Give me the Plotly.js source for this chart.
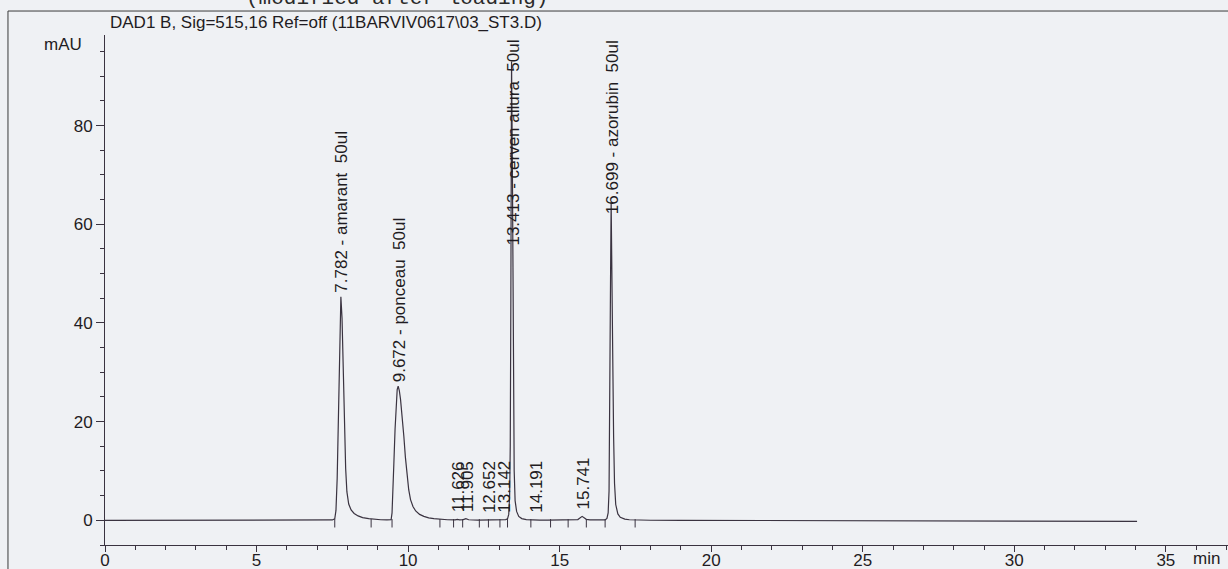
<!DOCTYPE html>
<html>
<head>
<meta charset="utf-8">
<script src="https://cdn.plot.ly/plotly-3.0.1.min.js"></script>
<style>html,body{margin:0;padding:0;background:#eff1f4;}#chart{width:1228px;height:569px;}</style>
</head>
<body>
<div id="chart"></div>
<script>
// Retention time (min) of the DAD1 B trace
const timeMin = [0, 1, 2, 3, 3.3, 3.4, 4, 5, 6, 7, 7.5, 7.58, 7.62, 7.66, 7.70, 7.74, 7.782, 7.82, 7.86, 7.90, 7.94, 7.98, 8.04, 8.12, 8.22, 8.35, 8.5, 8.7, 8.9, 9.1, 9.3, 9.44, 9.47, 9.50, 9.53, 9.57, 9.61, 9.64, 9.672, 9.71, 9.75, 9.80, 9.86, 9.91, 9.97, 10.02, 10.08, 10.16, 10.25, 10.38, 10.52, 10.68, 10.85, 11.05, 11.3, 11.55, 11.626, 11.7, 11.82, 11.905, 12.0, 12.3, 12.55, 12.652, 12.75, 13.0, 13.142, 13.22, 13.28, 13.32, 13.35, 13.37, 13.39, 13.413, 13.44, 13.46, 13.48, 13.50, 13.53, 13.58, 13.65, 13.75, 13.9, 14.05, 14.191, 14.35, 14.6, 15.0, 15.4, 15.6, 15.741, 15.88, 16.0, 16.3, 16.5, 16.56, 16.60, 16.63, 16.66, 16.68, 16.699, 16.72, 16.75, 16.78, 16.81, 16.85, 16.92, 17.0, 17.15, 17.3, 17.5, 18, 19, 20, 21, 22, 23, 24, 25, 26, 27, 28, 29, 30, 31, 32, 33, 34.05];
// Signal (mAU)
const signalMAU = [0, 0, 0.02, 0, 0.1, 0, 0, 0, 0.02, 0.05, 0.08, 0.3, 2, 8.5, 21, 36, 45.3, 41, 30, 19, 10.5, 5.8, 3.3, 2.1, 1.4, 0.9, 0.55, 0.35, 0.2, 0.12, 0.08, 0.15, 1.5, 5.5, 11.5, 18.5, 24, 26.5, 27.2, 26.3, 24.5, 21.5, 17, 12.8, 8.8, 6.2, 4.2, 2.8, 1.9, 1.2, 0.8, 0.5, 0.35, 0.2, 0.12, 0.1, 0.2, 0.1, 0.15, 0.35, 0.12, 0.05, 0.05, 0.15, 0.05, 0.05, 0.2, 0.15, 0.3, 1.2, 5, 15, 45, 93, 72, 42, 21, 10, 4, 1.8, 0.8, 0.35, 0.15, 0.08, 0.15, 0.05, 0.03, 0.03, 0.05, 0.15, 0.8, 0.2, 0.1, 0.05, 0.08, 0.4, 1.5, 6, 24, 50, 64.5, 56, 34, 17, 7.5, 3.2, 1.3, 0.6, 0.25, 0.12, 0.05, 0.02, 0, -0.02, -0.03, -0.05, -0.05, -0.08, -0.08, -0.1, -0.1, -0.12, -0.12, -0.15, -0.15, -0.18, -0.2, -0.2];

// Labelled peaks
const peakTimes = [7.782, 9.672, 11.626, 11.905, 12.652, 13.142, 13.413, 14.191, 15.741, 16.699];
const peakHeights = [45.3, 27.2, 0.2, 0.35, 0.15, 0.2, 93, 0.15, 0.8, 64.5];
const peakNames = ["amarant\u00a0\u00a050ul", "ponceau\u00a0\u00a050ul", "", "", "", "", "cerven allura\u00a0\u00a050ul", "", "", "azorubin\u00a0\u00a050ul"];

// Integration event marks on the baseline (min)
const eventTicks = [7.58, 8.78, 9.47, 11.05, 11.5, 11.8, 12.35, 12.65, 13.03, 13.28, 14.05, 14.7, 15.28, 15.88, 16.5, 17.49];

const xTickVals = [0, 5, 10, 15, 20, 25, 30, 35];
const yTickVals = [0, 20, 40, 60, 80];

const titleText = "DAD1 B, Sig=515,16 Ref=off (11BARVIV0617\\03_ST3.D)";
const headerText = "(modified after loading)";

const ink = "#3a3340";
const textInk = "#1f1c22";
const FONT = 'Arial, "Liberation Sans", sans-serif';

const traces = [
  {x: timeMin, y: signalMAU, type: "scatter", mode: "lines",
   line: {color: ink, width: 1.2}, hoverinfo: "skip", showlegend: false},
  {x: eventTicks, y: eventTicks.map(() => -0.6), type: "scatter", mode: "markers",
   marker: {symbol: "line-ns-open", size: 6, color: ink, line: {color: ink, width: 1}},
   hoverinfo: "skip", showlegend: false}
];

const annotations = peakTimes.map((t, i) => {
  const label = peakNames[i] ? t.toFixed(3) + " - " + peakNames[i] : t.toFixed(3);
  const big = peakHeights[i] > 60;
  return {
    x: t, xref: "x",
    y: big ? 1 : peakHeights[i], yref: big ? "paper" : "y",
    text: label, textangle: -90, showarrow: false,
    xanchor: "center", yanchor: big ? "top" : "bottom",
    xshift: 1, yshift: big ? -3 : (peakHeights[i] > 5 ? 2 : 5),
    font: {family: FONT, size: 17, color: textInk}
  };
});

annotations.push(
  {x: 0, xref: "paper", xanchor: "right", xshift: -21, y: 96.4, yref: "y", yanchor: "middle",
   text: "mAU", showarrow: false, font: {family: FONT, size: 17, color: textInk}},
  {x: 0.9813, xref: "paper", xanchor: "center", y: -0.0265, yref: "paper", yanchor: "middle",
   borderpad: 0, text: "min", showarrow: false, font: {family: FONT, size: 17, color: textInk}},
  {x: 0.2596, xref: "paper", xanchor: "center", y: 1.0706, yref: "paper", yanchor: "middle",
   text: headerText, showarrow: false,
   font: {family: '"Liberation Mono", "Courier New", monospace', size: 21, color: "#2a2a2a"}}
);

const layout = {
  width: 1228, height: 569,
  margin: {l: 105, r: 0, t: 35, b: 24, pad: 0},
  paper_bgcolor: "#eff1f4", plot_bgcolor: "#eff1f4",
  showlegend: false,
  title: {text: titleText, x: 110 / 1228, xanchor: "left", xref: "container",
          y: 1 - 22.5 / 569, yanchor: "middle", yref: "container",
          font: {family: FONT, size: 17, color: textInk}},
  xaxis: {range: [0, 37.05], tickvals: xTickVals, ticks: "outside", ticklen: 6, tickwidth: 1,
          ticklabelstandoff: -6,
          tickcolor: ink, showline: true, linecolor: ink, linewidth: 1, showgrid: false, zeroline: false,
          minor: {dtick: 1, tick0: 0, ticks: "outside", ticklen: 4, tickcolor: ink, tickwidth: 1, showgrid: false},
          tickfont: {family: FONT, size: 17, color: textInk}, fixedrange: true},
  yaxis: {range: [-5, 98.35], tickvals: yTickVals, ticks: "outside", ticklen: 8, tickwidth: 1,
          tickcolor: ink, showline: true, linecolor: ink, linewidth: 1, showgrid: false, zeroline: false,
          minor: {dtick: 5, tick0: 0, ticks: "outside", ticklen: 4, tickcolor: ink, tickwidth: 1, showgrid: false},
          tickfont: {family: FONT, size: 17, color: textInk}, fixedrange: true},
  annotations: annotations,
  shapes: [
    {type: "line", xref: "paper", yref: "paper", x0: -0.0864, x1: -0.0864, y0: 1.047, y1: -0.08,
     line: {color: "#3a3a3a", width: 1}},
    {type: "line", xref: "paper", yref: "paper", x0: -0.0864, x1: 1.0, y0: 1.047, y1: 1.047,
     line: {color: "#3a3a3a", width: 1}}
  ]
};

Plotly.newPlot("chart", traces, layout, {displayModeBar: false, staticPlot: true});
</script>
</body>
</html>
